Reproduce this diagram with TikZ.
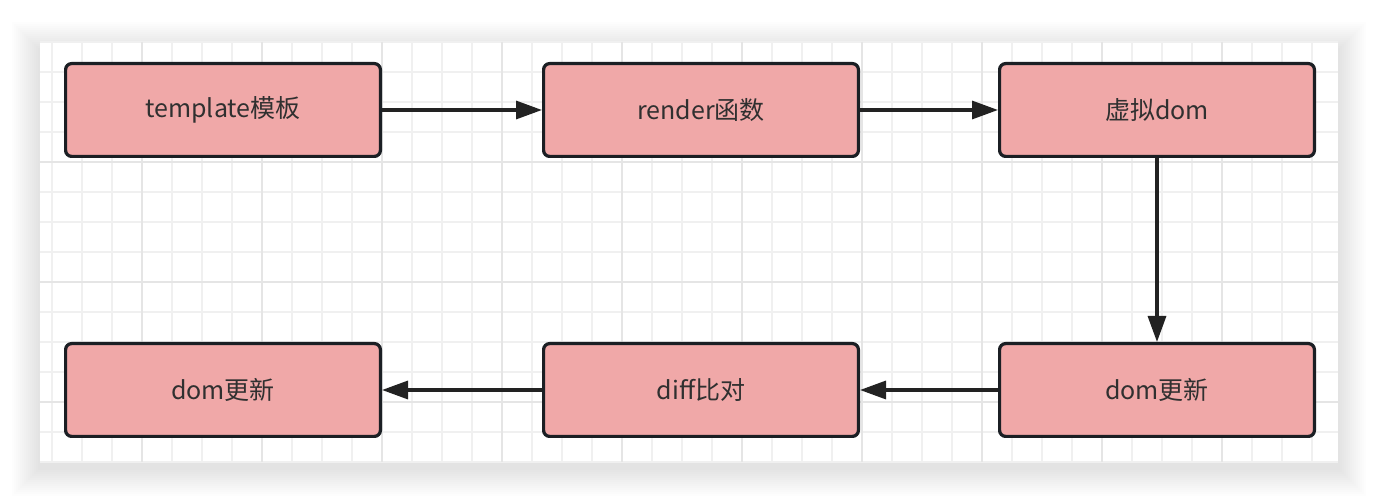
\documentclass[tikz,border=0pt]{standalone}
\usepackage{fontspec}
\setmainfont{Noto Sans CJK SC}
\usepackage{xcolor}
\usetikzlibrary{arrows.meta}

\definecolor{boxfill}{HTML}{F0A8A8}
\definecolor{boxline}{HTML}{1B1F24}
\definecolor{arrowline}{HTML}{222222}
\definecolor{textcol}{HTML}{303030}
\definecolor{gridminor}{HTML}{F0F0F0}
\definecolor{gridmajor}{HTML}{E5E5E5}

\tikzset{
  stage/.style={draw=boxline, fill=boxfill, line width=1.6pt, rounded corners=3pt,
    minimum width=157.4pt, minimum height=46.4pt, text=textcol,
    font=\fontsize{12.5}{15}\selectfont},
  flow/.style={draw=arrowline, line width=1.6pt, -{Triangle[length=13pt,width=9pt]}}
}

\begin{document}
\begin{tikzpicture}[x=0.5pt,y=-0.5pt]
                    \useasboundingbox (0,0) rectangle (1378,502);
                    % soft shadow round the canvas
                    \foreach \s in {2,4,...,28}
                      \fill[black, opacity=0.008] (40-\s,50-\s) rectangle (1338+\s,468+\s);
                    \fill[white] (40,42) rectangle (1338,462);
                    % grid
                    \foreach \x in {52,82,...,1312}
                      \draw[gridminor, line width=0.6pt] (\x,42) -- (\x,462);
                    \foreach \y in {42,72,...,462}
                      \draw[gridminor, line width=0.6pt] (40,\y) -- (1338,\y);
                    \foreach \x in {142,262,...,1222}
                      \draw[gridmajor, line width=0.8pt] (\x,42) -- (\x,462);
                    \foreach \y in {162,282,402}
                      \draw[gridmajor, line width=0.8pt] (40,\y) -- (1338,\y);
                    % steps
                    \node[stage] (tpl) at (223,110) {template模板};
                    \node[stage] (render) at (701,110) {render函数};
                    \node[stage] (vdom) at (1157,110) {虚拟dom};
                    \node[stage] (update) at (1157,390) {dom更新};
                    \node[stage] (diff) at (701,390) {diff比对};
                    \node[stage] (result) at (223,390) {dom更新};
                    % connectors
                    \draw[flow] (tpl) -- (render);
                    \draw[flow] (render) -- (vdom);
                    \draw[flow] (vdom) -- (update);
                    \draw[flow] (update) -- (diff);
                    \draw[flow] (diff) -- (result);
                \end{tikzpicture}
\end{document}
